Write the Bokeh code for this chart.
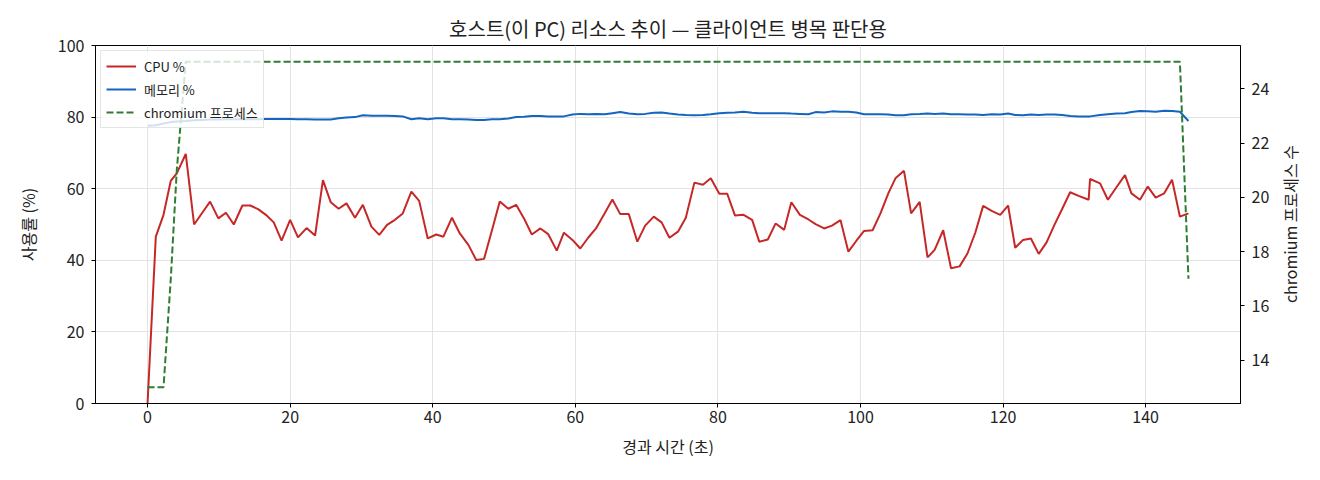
from bokeh.plotting import figure
from bokeh.layouts import row
from bokeh.models import Range1d, LinearAxis, FixedTicker, Legend, LegendItem, Div
from bokeh.embed import file_html
from bokeh.resources import INLINE

# 경과 시간 (초) - 샘플 시각
elapsed = [0.0, 1.16, 2.24, 3.26, 4.1, 5.36, 6.53, 7.65, 8.77, 9.93,
           11.0, 12.1, 13.3, 14.4, 15.5, 16.6, 17.7, 18.8, 20.0, 21.1,
           22.3, 23.5, 24.6, 25.7, 26.8, 27.9, 29.1, 30.2, 31.4, 32.5,
           33.6, 34.7, 35.8, 37.0, 38.1, 39.3, 40.5, 41.5, 42.7, 43.8,
           45.0, 46.1, 47.2, 48.3, 49.4, 50.6, 51.7, 52.8, 53.9, 55.1,
           56.2, 57.4, 58.4, 59.6, 60.7, 61.8, 62.9, 64.1, 65.2, 66.3,
           67.5, 68.7, 69.8, 71.0, 72.1, 73.2, 74.4, 75.5, 76.7, 77.9,
           79.0, 80.2, 81.3, 82.4, 83.6, 84.8, 85.8, 87.0, 88.1, 89.3,
           90.3, 91.5, 92.7, 93.7, 94.9, 96.0, 97.2, 98.3, 99.4, 100.5,
           101.7, 102.8, 103.9, 104.9, 106.1, 107.1, 108.3, 109.4, 110.4, 111.6,
           112.7, 113.9, 115.0, 116.1, 117.2, 118.4, 119.6, 120.7, 121.7, 122.8,
           123.9, 125.0, 126.1, 127.2, 128.3, 129.4, 130.6, 132.0, 132.2, 133.6,
           134.7, 135.9, 137.1, 138.0, 139.2, 140.3, 141.4, 142.6, 143.7, 144.8,
           146.0]

cpu_pct = [0.0, 46.6, 52.7, 62.2, 64.3, 69.7, 50.0, 53.2, 56.4, 51.7,
           53.3, 50.0, 55.3, 55.3, 54.3, 52.7, 50.6, 45.5, 51.3, 46.4,
           49.0, 46.9, 62.4, 56.2, 54.4, 55.9, 51.9, 55.5, 49.4, 47.1,
           49.9, 51.3, 53.1, 59.2, 56.6, 46.1, 47.2, 46.6, 51.9, 47.5,
           44.3, 40.1, 40.4, 48.3, 56.4, 54.4, 55.5, 51.7, 47.2, 48.9,
           47.3, 42.7, 47.7, 45.7, 43.3, 46.3, 48.9, 53.1, 57.0, 52.9,
           52.9, 45.2, 49.7, 52.2, 50.6, 46.3, 48.0, 51.9, 61.7, 61.1,
           62.9, 58.6, 58.6, 52.5, 52.7, 51.3, 45.2, 45.8, 50.3, 48.5,
           56.2, 52.7, 51.4, 50.1, 48.9, 49.7, 51.2, 42.4, 45.4, 48.2,
           48.4, 53.1, 58.7, 62.9, 65.0, 53.1, 56.3, 40.8, 42.9, 48.4,
           37.8, 38.3, 41.9, 47.7, 55.2, 53.8, 52.7, 55.3, 43.5, 45.7,
           46.1, 41.8, 45.0, 49.9, 54.4, 59.0, 58.0, 56.9, 62.7, 61.5,
           56.9, 60.4, 63.8, 58.7, 56.9, 60.6, 57.5, 58.7, 62.5, 52.2,
           53.1]

mem_pct = [77.6, 77.7, 78.2, 78.6, 78.8, 78.9, 79.1, 79.2, 79.3, 79.3,
           79.4, 79.4, 79.4, 79.5, 79.4, 79.5, 79.5, 79.5, 79.5, 79.4,
           79.4, 79.3, 79.3, 79.3, 79.7, 79.9, 80.0, 80.5, 80.4, 80.4,
           80.4, 80.3, 80.2, 79.4, 79.7, 79.4, 79.7, 79.7, 79.4, 79.4,
           79.3, 79.2, 79.2, 79.4, 79.4, 79.6, 80.0, 80.1, 80.3, 80.3,
           80.2, 80.2, 80.2, 80.7, 80.9, 80.8, 80.9, 80.8, 81.1, 81.4,
           81.0, 80.8, 80.9, 81.2, 81.3, 81.0, 80.7, 80.6, 80.5, 80.6,
           80.8, 81.1, 81.2, 81.3, 81.5, 81.2, 81.1, 81.1, 81.1, 81.1,
           81.0, 80.9, 80.8, 81.4, 81.3, 81.6, 81.5, 81.5, 81.3, 80.8,
           80.8, 80.8, 80.7, 80.5, 80.5, 80.8, 80.9, 81.0, 80.9, 81.0,
           80.8, 80.8, 80.7, 80.7, 80.6, 80.8, 80.7, 81.0, 80.6, 80.5,
           80.7, 80.6, 80.7, 80.7, 80.6, 80.3, 80.2, 80.2, 80.2, 80.6,
           80.8, 81.0, 81.1, 81.4, 81.7, 81.6, 81.5, 81.8, 81.7, 81.5,
           78.9]

# chromium 프로세스 수 (값이 바뀌는 지점만)
proc_time = [0.0, 1.16, 2.24, 3.26, 4.1, 5.36, 144.8, 146.0]
proc_count = [13, 13, 13, 17, 21, 25, 25, 17]

x_ticks = [0, 20, 40, 60, 80, 100, 120, 140]
pct_ticks = [0, 20, 40, 60, 80, 100]
proc_ticks = [14, 16, 18, 20, 22, 24]

FONT = "Noto Sans CJK KR"

p = figure(width=1272, height=464,
           x_range=Range1d(-7.3, 153.3), y_range=Range1d(0, 100),
           title="호스트(이 PC) 리소스 추이 — 클라이언트 병목 판단용",
           x_axis_label="경과 시간 (초)", y_axis_label="사용률 (%)",
           output_backend="svg", toolbar_location=None,
           min_border_left=95, min_border_right=32,
           min_border_top=45, min_border_bottom=61)
p.extra_y_ranges = {"proc": Range1d(12.4, 25.6)}

right_axis = LinearAxis(y_range_name="proc", ticker=FixedTicker(ticks=proc_ticks))
p.add_layout(right_axis, "right")

p.xaxis.ticker = FixedTicker(ticks=x_ticks)
p.yaxis[0].ticker = FixedTicker(ticks=pct_ticks)

for ax in p.axis:
    ax.major_label_text_font = FONT
    ax.major_label_text_font_size = "16px"
    ax.major_label_text_color = "#222222"
    ax.axis_label_text_font = FONT
    ax.axis_label_text_font_size = "16px"
    ax.axis_label_text_font_style = "normal"
    ax.axis_label_text_color = "#222222"
    ax.major_tick_in = 0
    ax.major_tick_out = 4
    ax.minor_tick_line_color = None
    ax.axis_line_color = "black"
    ax.major_tick_line_color = "black"
    ax.major_label_standoff = 7
p.xaxis.major_label_standoff = 3
p.xaxis.axis_label_standoff = 8
p.yaxis[0].axis_label_standoff = 15

p.outline_line_color = "black"
p.outline_line_width = 1
p.grid.grid_line_color = "#e3e3e3"
p.grid.grid_line_width = 1
p.background_fill_color = "white"

p.title.align = "center"
p.title.text_font = FONT
p.title.text_font_size = "20px"
p.title.text_font_style = "normal"
p.title.text_color = "#222222"
p.title.standoff = 5

r_cpu = p.line(elapsed, cpu_pct, line_color="#c62828", line_width=2)
r_mem = p.line(elapsed, mem_pct, line_color="#1565c0", line_width=2)
r_proc = p.line(proc_time, proc_count, y_range_name="proc", line_color="#2e7d32",
                line_width=2, line_dash="7 3")

legend = Legend(items=[LegendItem(label="CPU %", renderers=[r_cpu]),
                       LegendItem(label="메모리 %", renderers=[r_mem]),
                       LegendItem(label="chromium 프로세스", renderers=[r_proc])],
                location="top_left")
legend.label_text_font = FONT
legend.label_text_font_size = "13px"
legend.label_text_color = "#222222"
legend.glyph_width = 30
legend.glyph_height = 20
legend.label_height = 20
legend.label_standoff = 8
legend.spacing = 3
legend.padding = 5
legend.margin = 5
legend.border_line_color = "#cccccc"
legend.background_fill_alpha = 0.8
# 보조축 선(chromium)이 범례 위로 지나가도록 범례를 선 아래에 그림
legend.level = "underlay"
p.add_layout(legend)

# 오른쪽 축 제목 (아래에서 위로 읽히도록 회전)
right_title = Div(
    text=('<div style="position:absolute; left:18px; top:224px; '
          'transform:translate(-50%,-50%) rotate(-90deg); white-space:nowrap; '
          f"font-family:'{FONT}'; font-size:16px; color:#222222;\">"
          'chromium 프로세스 수</div>'),
    width=40, height=464, margin=0)

layout = row(p, right_title)

open("out.html", "w").write(file_html(layout, INLINE))
